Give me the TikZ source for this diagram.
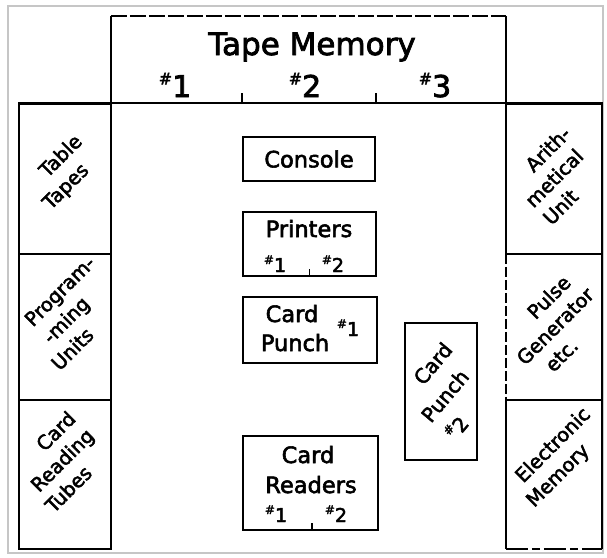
\documentclass[tikz,border=0pt]{standalone}
\usepackage{fontspec}
\setmainfont{DejaVu Sans}[FakeBold=2.5]
\newcommand\hashnum[2][13]{\raisebox{0.42em}{\fontsize{#1}{#1}\selectfont\#}#2}
\tikzset{
  ln/.style={line width=1.6pt},
  box/.style={draw, line width=1.6pt, inner sep=0pt},
  txt/.style={font=\fontsize{22.5}{27}\selectfont, inner sep=0pt},
  numtxt/.style={font=\fontsize{19}{19}\selectfont, inner sep=0pt},
  bignum/.style={font=\fontsize{30}{30}\selectfont, inner sep=0pt},
  diag/.style={font=\fontsize{19.5}{25}\selectfont, rotate=45, align=center, inner sep=0pt},
  diagb/.style={font=\fontsize{20}{30}\selectfont, rotate=50, align=center, inner sep=0pt},
}
\begin{document}
\begin{tikzpicture}[x=1pt,y=-1pt]
\useasboundingbox (0,0) rectangle (607,557);
% outer frame
\node[draw=gray!45, line width=1.5pt, minimum width=595pt, minimum height=547pt, inner sep=0pt] (frame) at (305.5,279.5) {};
% tape memory
\node[minimum width=395pt, minimum height=88pt, inner sep=0pt] (tape) at (308.5,60) {};
\draw[ln] (tape.south west) -- (tape.north west);
\draw[ln, dash pattern=on 16pt off 3pt] (tape.north west) -- (tape.north east);
\draw[ln] (tape.north east) -- (tape.south east);
\node[font=\fontsize{31}{31}\selectfont, inner sep=0pt, anchor=base] (title) at (312,55) {Tape Memory};
\node[bignum, anchor=base] (t1) at (175,97) {\hashnum[16]{1}};
\node[bignum, anchor=base] (t2) at (305,97) {\hashnum[16]{2}};
\node[bignum, anchor=base] (t3) at (435,97) {\hashnum[16]{3}};
% left column
\node[box, minimum width=92pt, minimum height=150pt] (tt) at (65,179) {};
\node[box, minimum width=92pt, minimum height=146pt] (pu) at (65,327) {};
\node[box, minimum width=92pt, minimum height=149pt] (crt) at (65,474.5) {};
% right column
\node[box, minimum width=96pt, minimum height=150pt] (au) at (554,179) {};
\node[minimum width=96pt, minimum height=146pt, inner sep=0pt] (pg) at (554,327) {};
\node[minimum width=96pt, minimum height=149pt, inner sep=0pt] (em) at (554,474.5) {};
\draw[ln, dash pattern=on 10pt off 3pt] (pg.north west) -- (pg.south west);
\draw[ln] (pg.north east) -- (pg.south east);
\draw[ln] (em.south west) -- (em.north west) -- (em.north east) -- (em.south east);
\draw[ln, dash pattern=on 22pt off 4pt on 8pt off 4pt] (em.south west) -- (em.south east);
% line under tape memory
\draw[ln] (tt.north west) -- (au.north east);
% column texts (lines stacked vertically)
\node[diag] (tttxt) at (64,172) {\hspace*{18pt}Table\\Tapes\hspace*{18pt}};
\node[diag] (putxt) at (66,320) {\hspace*{32pt}Program-\\-ming\\Units\hspace*{32pt}};
\node[diag] (crttxt) at (62,460) {\hspace*{32pt}Card\\Reading\\Tubes\hspace*{32pt}};
\node[diag] (autxt) at (554,178) {\hspace*{32pt}Arith-\\metical\\Unit\hspace*{32pt}};
\node[diag] (pgtxt) at (555,326) {\hspace*{32pt}Pulse\\Generator\\etc.\hspace*{32pt}};
\node[diag] (emtxt) at (556,461) {\hspace*{18pt}Electronic\\Memory\hspace*{18pt}};
% central boxes
\node[box, minimum width=132pt, minimum height=44pt] (console) at (309,159) {};
\node[txt] (consoletxt) at (console) {Console};
\node[box, minimum width=133pt, minimum height=64pt] (printers) at (309.5,244) {};
\node[txt, anchor=base] (prtxt) at (309,237) {Printers};
\node[numtxt, anchor=base] (pr1) at (275,272) {\hashnum[12]{1}};
\node[numtxt, anchor=base] (pr2) at (333,272) {\hashnum[12]{2}};
\draw[ln] (printers.south) -- ++(0,-8);
\node[box, minimum width=134pt, minimum height=66pt] (cp1) at (310,330) {};
\node[txt, anchor=base] (cp1a) at (292,322) {Card};
\node[txt, anchor=base] (cp1b) at (295,351) {Punch};
\node[numtxt, anchor=base] (cp1n) at (348,336) {\hashnum[12]{1}};
\node[box, minimum width=72pt, minimum height=137pt] (cp2) at (441,391.5) {};
\node[diagb] (cp2txt) at (444.7,395.7) {\hspace*{34pt}Card\\Punch\\\hashnum[12]{2}\hspace*{34pt}};
\node[box, minimum width=135pt, minimum height=94pt] (cr) at (310.5,483) {};
\node[txt, anchor=base] (cra) at (308,463) {Card};
\node[txt, anchor=base] (crb) at (311,493) {Readers};
\node[numtxt, anchor=base] (cr1) at (276,522) {\hashnum[12]{1}};
\node[numtxt, anchor=base] (cr2) at (336,522) {\hashnum[12]{2}};
\draw[ln] ([xshift=1.5pt]cr.south) -- ++(0,-8);
% ticks on tape memory
\draw[ln] (tape.south -| console.west) -- ++(0,-11);
\draw[ln] (tape.south -| console.east) -- ++(0,-11);
\end{tikzpicture}
\end{document}
